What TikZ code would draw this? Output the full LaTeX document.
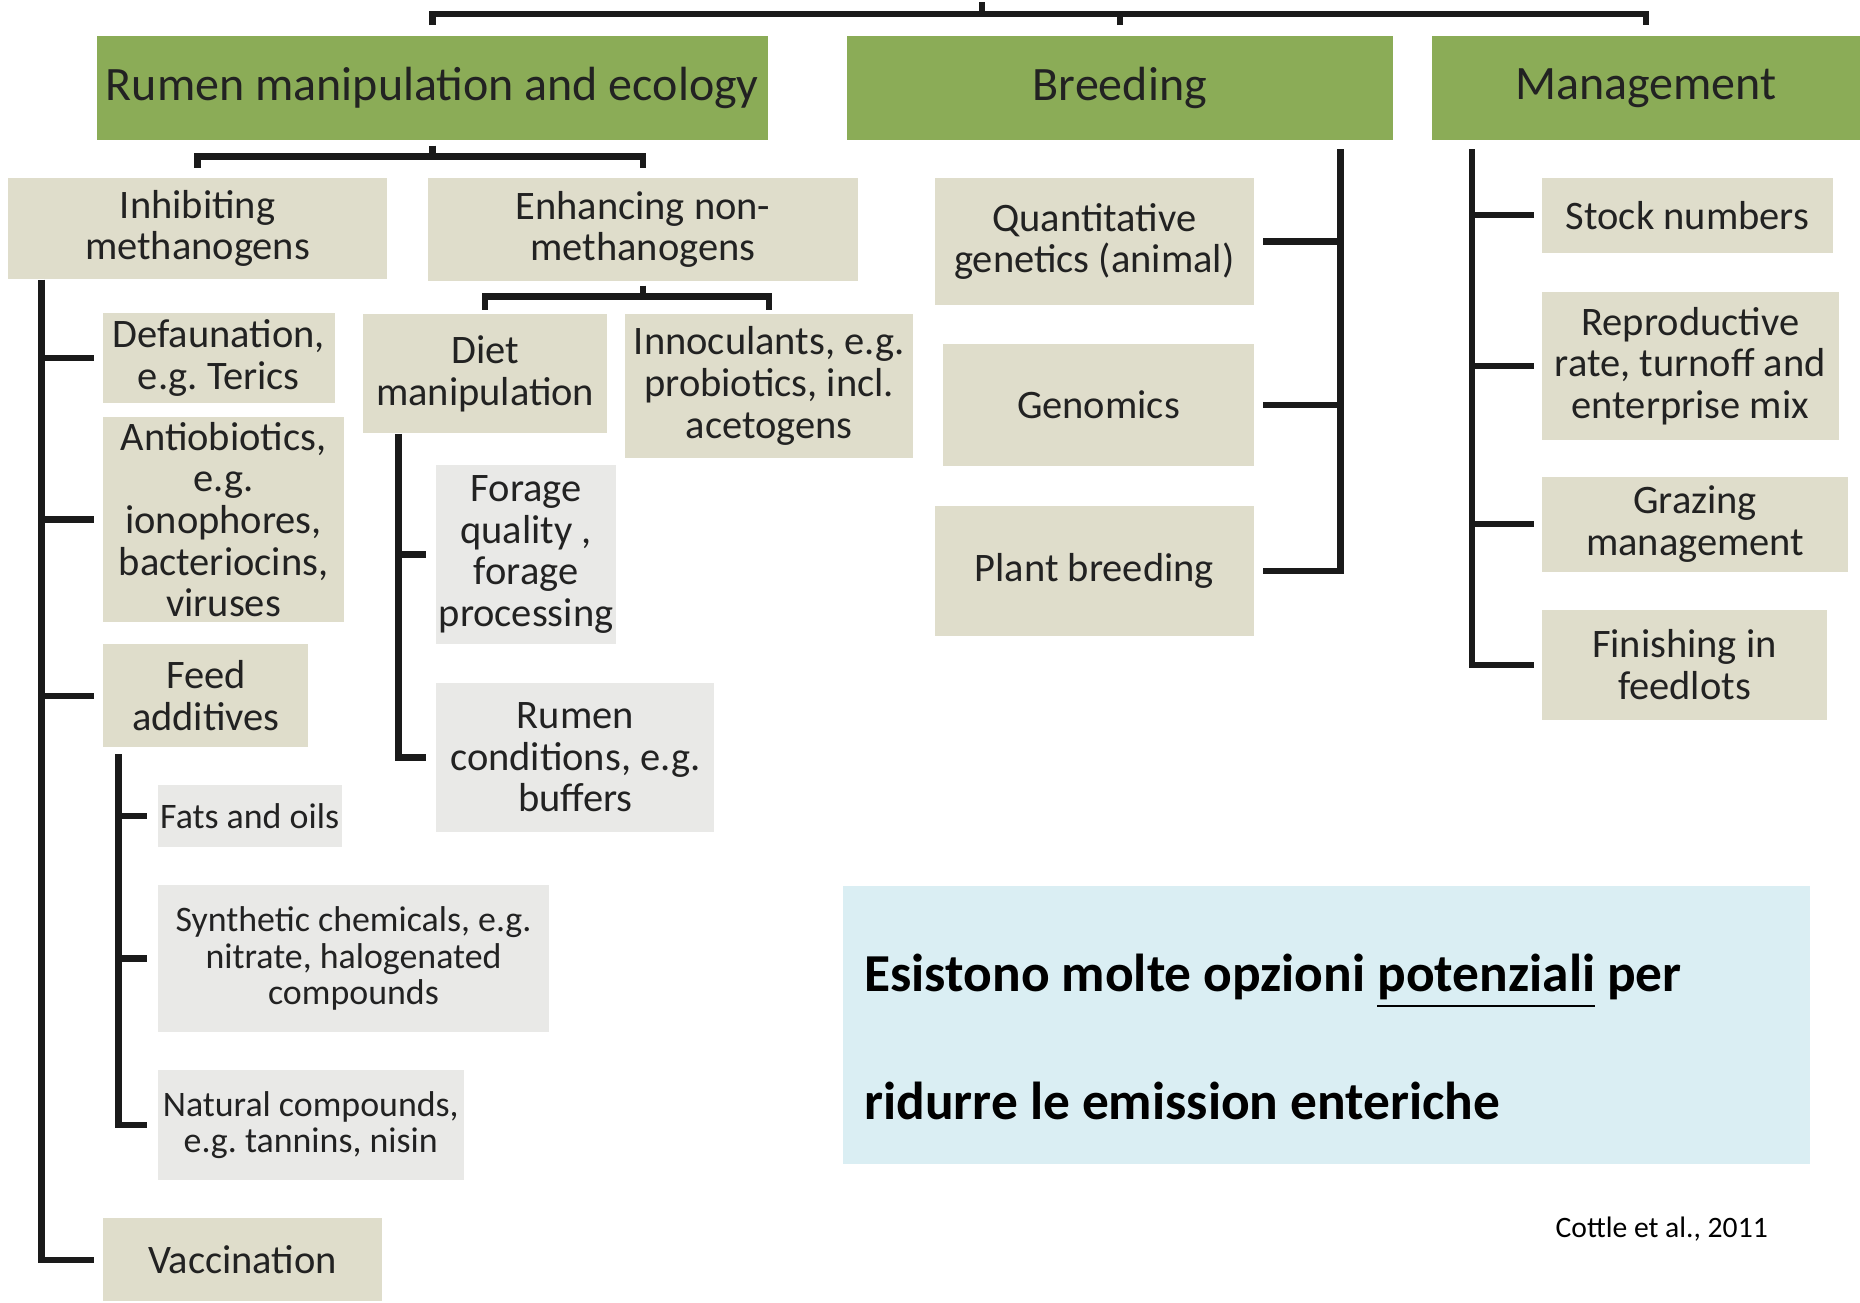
\documentclass[tikz,border=0pt]{standalone}
\usepackage{fontspec}
\setmainfont{Carlito}
\usetikzlibrary{calc}
\frenchspacing
\definecolor{hgreen}{HTML}{8BAC57}
\definecolor{beige}{HTML}{DFDDCB}
\definecolor{lgray}{HTML}{E9E9E7}
\definecolor{lblue}{HTML}{DAEEF3}
\definecolor{txt}{HTML}{222222}
\definecolor{ln}{HTML}{1A1A1A}
\tikzset{
  hdr/.style={fill=hgreen, inner sep=0pt, minimum height=0.88cm, text=txt,
    font=\fontsize{11.5}{13}\selectfont},
  bbox/.style={fill=beige, inner sep=0pt, align=center, text=txt,
    font=\fontsize{9.7}{10}\selectfont},
  gbox/.style={fill=lgray, inner sep=0pt, align=center, text=txt,
    font=\fontsize{9.7}{10}\selectfont},
  sbox/.style={fill=lgray, inner sep=0pt, align=center, text=txt,
    font=\fontsize{8.6}{8.8}\selectfont},
  conn/.style={draw=ln, line width=1.5pt, line join=miter},
}
\begin{document}
\frenchspacing
\begin{tikzpicture}[x=0.01cm,y=-0.01cm]
\useasboundingbox (0,0) rectangle (1568,1098);
% headers
\node[hdr, minimum width=5.65cm] (rum) at (364.5,74) {Rumen manipulation and ecology};
\node[hdr, minimum width=4.60cm] (bre) at (944,74) {Breeding};
\node[hdr, minimum width=3.61cm] (man) at (1387.5,74) {Management};
% level 2
\node[bbox, minimum width=3.19cm, minimum height=0.85cm] (inh) at (166.5,192.5) {Inhibiting\\methanogens};
\node[bbox, minimum width=3.62cm, minimum height=0.87cm] (enh) at (542,193.5) {Enhancing non-\\methanogens};
% inhibiting items
\node[bbox, minimum width=1.95cm, minimum height=0.76cm] (defa) at (184.5,302) {Defaunation,\\e.g. Terics};
\node[bbox, minimum width=2.03cm, minimum height=1.72cm] (anti) at (188.5,438) {Antiobiotics,\\e.g.\\ionophores,\\bacteriocins,\\viruses};
\node[bbox, minimum width=1.73cm, minimum height=0.87cm] (feed) at (173.5,586.5) {Feed\\additives};
\node[bbox, minimum width=2.35cm, minimum height=0.70cm] (vacc) at (204.5,1062) {Vaccination};
% feed additive items
\node[sbox, minimum width=1.55cm, minimum height=0.52cm] (fats) at (210.5,688) {Fats and oils};
\node[sbox, minimum width=3.30cm, minimum height=1.24cm] (synth) at (298,808) {Synthetic chemicals, e.g.\\nitrate, halogenated\\compounds};
\node[sbox, minimum width=2.58cm, minimum height=0.93cm] (natur) at (262,948.5) {Natural compounds,\\e.g. tannins, nisin};
% enhancing items
\node[bbox, minimum width=2.06cm, minimum height=1.00cm] (diet) at (409,315) {Diet\\manipulation};
\node[bbox, minimum width=2.43cm, minimum height=1.21cm] (inoc) at (648.5,325.5) {Innoculants, e.g.\\probiotics, incl.\\acetogens};
\node[gbox, minimum width=1.51cm, minimum height=1.51cm] (forage) at (443.5,467.5) {Forage\\quality ,\\forage\\processing};
\node[gbox, minimum width=2.34cm, minimum height=1.25cm] (rcond) at (485,638.5) {Rumen\\conditions, e.g.\\buffers};
% breeding items
\node[bbox, minimum width=2.69cm, minimum height=1.07cm] (qg) at (922.5,203.5) {Quantitative\\genetics (animal)};
\node[bbox, minimum width=2.62cm, minimum height=1.03cm] (geno) at (926,341.5) {Genomics};
\node[bbox, minimum width=2.69cm, minimum height=1.09cm] (plant) at (922.5,481.5) {Plant breeding};
% management items
\node[bbox, minimum width=2.45cm, minimum height=0.63cm] (stock) at (1422.5,181.5) {Stock numbers};
\node[bbox, minimum width=2.50cm, minimum height=1.25cm] (repro) at (1425,308.5) {Reproductive\\rate, turnoff and\\enterprise mix};
\node[bbox, minimum width=2.58cm, minimum height=0.80cm] (graz) at (1429,442) {Grazing\\management};
\node[bbox, minimum width=2.40cm, minimum height=0.93cm] (fin) at (1420,560.5) {Finishing in\\feedlots};
% blue box
\node[fill=lblue, inner sep=0pt, minimum width=8.15cm, minimum height=2.34cm] (blue) at (1118.5,864) {};
\node[anchor=base west, inner sep=0pt, text=black, font=\fontsize{12.8}{14}\bfseries\selectfont] (l1) at (728,836) {Esistono molte opzioni \underline{potenziali} per};
\node[anchor=base west, inner sep=0pt, text=black, font=\fontsize{12.8}{14}\bfseries\selectfont] (l2) at (728,944) {ridurre le emission enteriche};
\node[anchor=base east, inner sep=0pt, text=black, font=\fontsize{7.1}{8}\selectfont] (cite) at (1491,1043) {Cottle et al., 2011};
% connectors
\coordinate (tstub) at (828,2);
\coordinate (tbar) at (828,12);
\draw[conn] (tstub) -- (tbar);
\draw[conn] ([yshift=0.08cm]rum.north) |- (tbar) -| ([yshift=0.08cm]man.north);
\draw[conn] ([yshift=0.08cm]bre.north) -- (bre.north |- tbar);
\coordinate (rbar) at (364,132);
\draw[conn] ([yshift=-0.04cm]rum.south) -- (rum.south |- rbar);
\draw[conn] ([yshift=0.08cm]inh.north) |- (rbar) -| ([yshift=0.08cm]enh.north);
\coordinate (ebar) at (541,250);
\draw[conn] ([yshift=-0.03cm]enh.south) -- (enh.south |- ebar);
\draw[conn] ([yshift=0.03cm]diet.north) |- (ebar) -| ([yshift=0.03cm]inoc.north);
% left trunk
\coordinate (lt) at (35,0);
\draw[conn] (inh.south -| lt) |- ([xshift=-0.07cm]vacc.west);
\foreach \n in {defa,anti,feed} \draw[conn] (\n.west -| lt) -- ([xshift=-0.07cm]\n.west);
% feed trunk
\coordinate (ft) at (100,0);
\draw[conn] ($(feed.south -| ft)+(0,5)$) |- ([xshift=-0.08cm]natur.west);
\foreach \n in {fats,synth} \draw[conn] (\n.west -| ft) -- ([xshift=-0.08cm]\n.west);
% diet trunk
\coordinate (dt) at (336,0);
\draw[conn] (diet.south -| dt) |- ([xshift=-0.08cm]rcond.west);
\draw[conn] (forage.west -| dt) -- ([xshift=-0.08cm]forage.west);
% breeding trunk
\coordinate (bt) at (1130,0);
\draw[conn] ($(bre.south -| bt)+(0,7)$) |- ([xshift=0.07cm]plant.east);
\foreach \n in {qg,geno} \draw[conn] (\n.east -| bt) -- ([xshift=0.07cm]\n.east);
% management trunk
\coordinate (mt) at (1241,0);
\draw[conn] ($(man.south -| mt)+(0,7)$) |- ([xshift=-0.06cm]fin.west);
\foreach \n in {stock,repro,graz} \draw[conn] (\n.west -| mt) -- ([xshift=-0.06cm]\n.west);
\end{tikzpicture}
\end{document}
